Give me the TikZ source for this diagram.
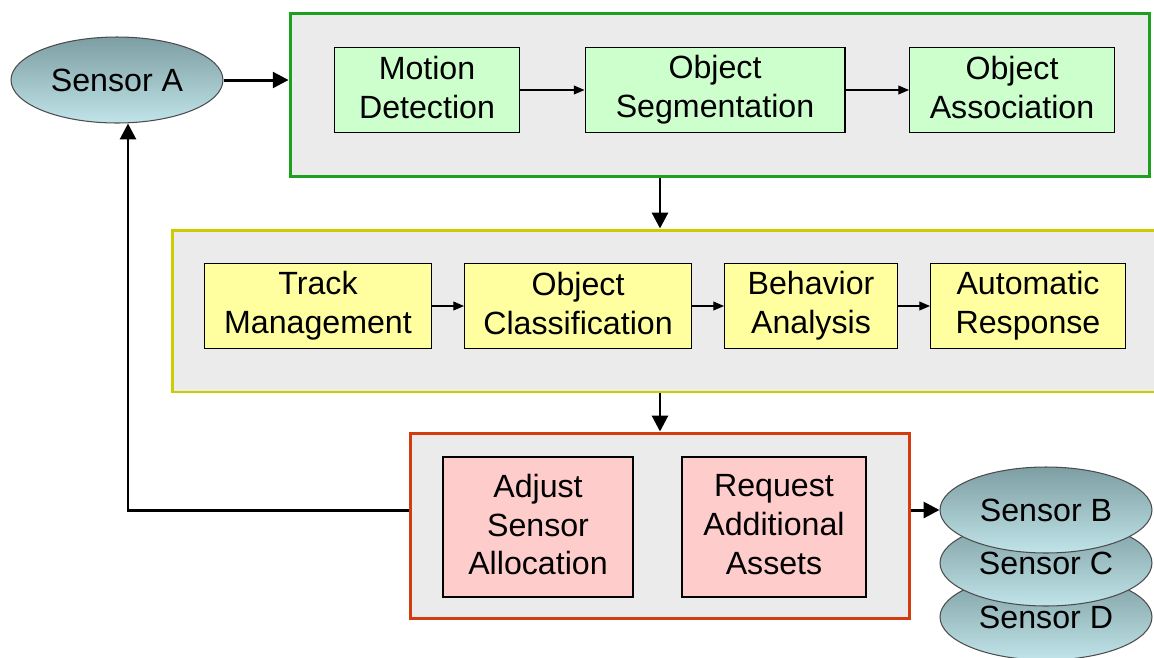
\documentclass[tikz,border=0pt]{standalone}
\usepackage{fontspec}
\setmainfont{Liberation Sans}
\usepackage{tikz}
\usetikzlibrary{shapes.geometric, arrows.meta, positioning, calc}
\definecolor{panelgray}{RGB}{235, 235, 235}
\definecolor{detgreen}{RGB}{30, 160, 30}
\definecolor{detfill}{RGB}{204, 255, 204}
\definecolor{trkyellow}{RGB}{204, 204, 0}
\definecolor{trkfill}{RGB}{255, 255, 160}
\definecolor{rspred}{RGB}{210, 60, 15}
\definecolor{rspfill}{RGB}{255, 204, 204}
\definecolor{senstop}{RGB}{125, 158, 163}
\definecolor{sensbot}{RGB}{192, 228, 233}

\begin{document}
\begin{tikzpicture}[
    x=0.02cm, y=-0.02cm,
    every node/.style={font=\fontsize{18.3}{22}\selectfont},
    panel/.style={rectangle, line width=1.7pt, fill=panelgray},
    stage/.style={rectangle, draw=black, line width=0.6pt, align=center,
                  minimum height=1.7cm, execute at begin node=\rule{0pt}{16pt},
                  execute at end node=\rule[-3pt]{0pt}{3pt}},
    sensor/.style={ellipse, draw=black!70, line width=0.6pt, top color=senstop,
                   bottom color=sensbot, minimum width=4.24cm, minimum height=1.72cm},
    bigarrow/.style={-{Triangle[length=9pt, width=9pt]}, line width=1.7pt},
    smallarrow/.style={-{Triangle[length=6pt, width=5pt]}, line width=0.6pt}
]
\useasboundingbox (0,0) rectangle (1154,657);

% Panels
\node[panel, draw=detgreen, minimum width=17.2cm, minimum height=3.28cm] (detect) at (720,95) {};
\node[panel, draw=trkyellow, minimum width=19.8cm, minimum height=3.24cm] (track) at (667,311) {};
\node[panel, draw=rspred, minimum width=10cm, minimum height=3.72cm] (respond) at (660,526) {};

% Stages
\node[stage, fill=detfill, minimum width=3.7cm] (motion) at (427,90) {Motion\\Detection};
\node[stage, fill=detfill, minimum width=5.2cm] (segment) at (715,90) {Object\\Segmentation};
\node[stage, fill=detfill, minimum width=4.1cm] (assoc) at (1012,90) {Object\\Association};

\node[stage, fill=trkfill, minimum width=4.54cm] (trkmgmt) at (318,306) {Track\\Management};
\node[stage, fill=trkfill, minimum width=4.54cm] (classify) at (578,306) {Object\\Classification};
\node[stage, fill=trkfill, minimum width=3.46cm] (behave) at (811,306) {Behavior\\Analysis};
\node[stage, fill=trkfill, minimum width=3.9cm] (autoresp) at (1028,306) {Automatic\\Response};

\node[stage, fill=rspfill, minimum width=3.8cm, minimum height=2.8cm] (adjust) at (538,527) {Adjust\\Sensor\\Allocation};
\node[stage, fill=rspfill, minimum width=3.68cm, minimum height=2.8cm] (request) at (774,527) {Request\\Additional\\Assets};

% Sensors
\node[sensor] (sensA) at (117,80) {Sensor A};
\node[sensor] (sensD) at (1046,617) {Sensor D};
\node[sensor] (sensC) at (1046,563) {Sensor C};
\node[sensor] (sensB) at (1046,510) {Sensor B};

% Edges
\draw[smallarrow] (motion) -- (segment);
\draw[smallarrow] (segment) -- (assoc);
\draw[smallarrow] (trkmgmt) -- (classify);
\draw[smallarrow] (classify) -- (behave);
\draw[smallarrow] (behave) -- (autoresp);

\draw[bigarrow] (sensA) -- (detect.west |- sensA);
\draw[bigarrow] (detect.south -| respond.north) -- (track.north -| respond.north);
\draw[bigarrow] (track.south -| respond.north) -- (respond.north);
\draw[bigarrow] (respond.west |- sensB) -| ($(sensA.south)+(11,0)$);
\draw[bigarrow] (respond.east |- sensB) -- (sensB.west);

\end{tikzpicture}
\end{document}
